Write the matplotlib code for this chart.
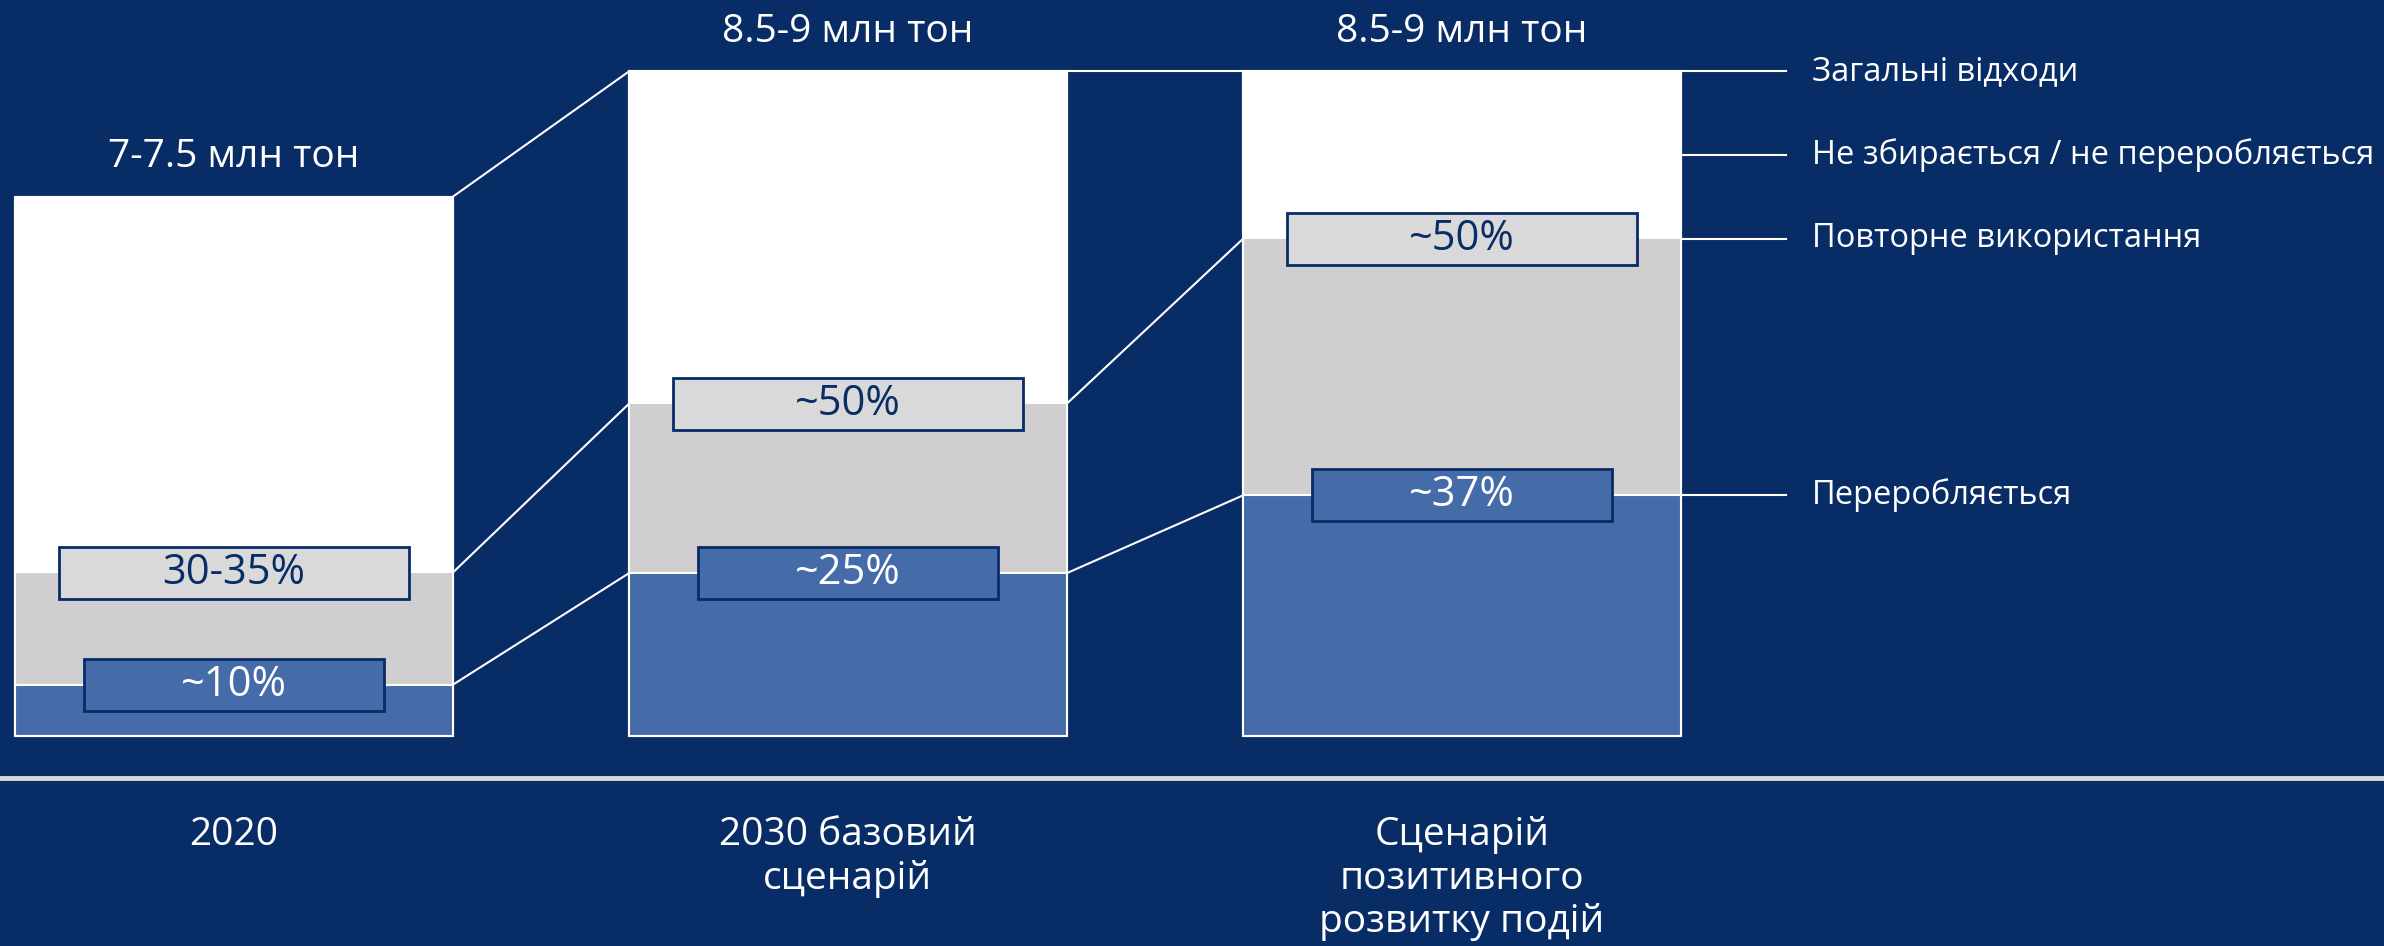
import numpy as np
import matplotlib
matplotlib.use('Agg')
from matplotlib import pyplot as plt
from matplotlib.patches import Rectangle

# dane
scenarios = ['2020', '2030 базовий\nсценарій', 'Сценарій\nпозитивного\nрозвитку подій']
totals = [7.1, 8.75, 8.75]              # млн тон (висота стовпця)
total_labels = ['7-7.5 млн тон', '8.5-9 млн тон', '8.5-9 млн тон']
recycled_share = [0.095, 0.245, 0.362]  # частка "переробляється"
reused_share = [0.303, 0.50, 0.748]     # межа "повторне використання" (накопичено)
recycled_labels = ['~10%', '~25%', '~37%']
reused_labels = ['30-35%', '~50%', '~50%']
legend_labels = ['Загальні відходи', 'Не збирається / не переробляється',
                 'Повторне використання', 'Переробляється']

navy = '#082c66'
blue = '#456ca8'
grey = '#d0cecf'
light = '#d9d9d9'

plt.rcParams['font.family'] = ['Open Sans', 'DejaVu Sans']

fig = plt.figure(figsize=(23.84, 9.46), dpi=100, facecolor=navy)
ax = fig.add_axes([0, 0, 1, 1])
ax.set_facecolor(navy)
ax.set_xlim(-0.381, 3.502)
ax.set_ylim(-2.765, 9.69)
ax.axis('off')

x = np.arange(len(scenarios))
w = 0.713
totals = np.array(totals)
rec = totals * np.array(recycled_share)
reu = totals * np.array(reused_share)

# stovpci
ax.bar(x, totals, width=w, color='white', edgecolor='white', linewidth=1.5, zorder=2)
ax.bar(x, reu, width=w, color=grey, edgecolor='white', linewidth=0, zorder=3)
ax.bar(x, rec, width=w, color=blue, edgecolor='white', linewidth=0, zorder=4)
ax.bar(x, totals, width=w, fill=False, edgecolor='white', linewidth=1.5, zorder=5)
for i in range(len(x)):
    ax.plot([x[i] - w / 2, x[i] + w / 2], [rec[i], rec[i]], color='white', lw=1.5, zorder=5)

# linie laczace
for i in range(len(x) - 1):
    for lv in (totals, reu, rec):
        ax.plot([x[i] + w / 2, x[i + 1] - w / 2], [lv[i], lv[i + 1]], color='white', lw=1.5, zorder=1)

# etykiety w ramkach
bh = 0.685
for i in range(len(x)):
    bw = 0.571
    ax.add_patch(Rectangle((x[i] - bw / 2, reu[i] - bh / 2), bw, bh, facecolor=light,
                           edgecolor=navy, linewidth=2, zorder=6))
    ax.text(x[i], reu[i], reused_labels[i], ha='center', va='center', fontsize=30,
            color=navy, zorder=7)
    bw = 0.488
    ax.add_patch(Rectangle((x[i] - bw / 2, rec[i] - bh / 2), bw, bh, facecolor=blue,
                           edgecolor=navy, linewidth=2, zorder=6))
    ax.text(x[i], rec[i], recycled_labels[i], ha='center', va='center', fontsize=30,
            color='white', zorder=7)
    ax.text(x[i], totals[i] + 0.52, total_labels[i], ha='center', va='center',
            fontsize=28, color='white')
    ax.text(x[i], -1.05, scenarios[i], ha='center', va='top', fontsize=28,
            color='white', linespacing=1.2)

# legenda po prawej
last = len(x) - 1
levels = [totals[last], (totals[last] + reu[last]) / 2, reu[last], rec[last]]
x0 = x[last] + w / 2
for lv, lab in zip(levels, legend_labels):
    ax.plot([x0, 2.528], [lv, lv], color='white', lw=1.5)
    ax.text(2.570, lv, lab, ha='left', va='center', fontsize=23.5, color='white')

# linia oddzielajaca
ax.axhline(-0.553, color=light, lw=3.5)

plt.savefig('out.png', dpi=100, facecolor=navy)
